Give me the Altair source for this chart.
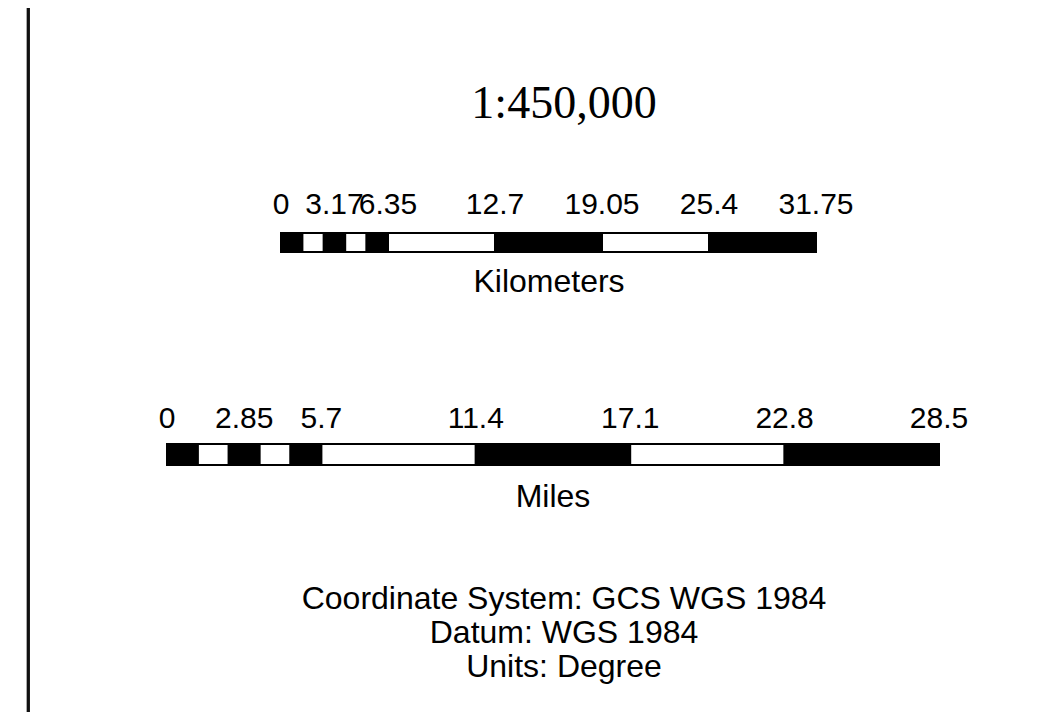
import altair as alt
import pandas as pd

# ---- data ----
km_breaks = [0, 1.27, 2.54, 3.81, 5.08, 6.35, 12.7, 19.05, 25.4, 31.75]
km_tick_values = [0, 3.175, 6.35, 12.7, 19.05, 25.4, 31.75]
km_tick_labels = ["0", "3.17", "6.35", "12.7", "19.05", "25.4", "31.75"]

mi_breaks = [0, 1.14, 2.28, 3.42, 4.56, 5.7, 11.4, 17.1, 22.8, 28.5]
mi_tick_values = [0, 2.85, 5.7, 11.4, 17.1, 22.8, 28.5]
mi_tick_labels = ["0", "2.85", "5.7", "11.4", "17.1", "22.8", "28.5"]

scale_text = "1:450,000"
km_unit = "Kilometers"
mi_unit = "Miles"
info_lines = ["Coordinate System: GCS WGS 1984", "Datum: WGS 1984", "Units: Degree"]

SANS = "Liberation Sans"
SERIF = "Liberation Serif"


def segs(breaks):
    rows = []
    for i in range(len(breaks) - 1):
        rows.append({"start": breaks[i], "end": breaks[i + 1],
                     "fill": "#000000" if i % 2 == 0 else "#ffffff"})
    return pd.DataFrame(rows)


km_seg = segs(km_breaks)
mi_seg = segs(mi_breaks)
km_lab = pd.DataFrame({"v": km_tick_values, "t": km_tick_labels})
mi_lab = pd.DataFrame({"v": mi_tick_values, "t": mi_tick_labels})

km_scale = alt.Scale(domain=[0, 31.75], range=[273, 808])
mi_scale = alt.Scale(domain=[0, 28.5], range=[159, 931])

km_bar = alt.Chart(km_seg).mark_rect(stroke="#000000", strokeWidth=2).encode(
    x=alt.X("start:Q", scale=km_scale, axis=None),
    x2="end:Q",
    y=alt.value(225), y2=alt.value(244),
    color=alt.Color("fill:N", scale=None),
)
km_text = alt.Chart(km_lab).mark_text(font=SANS, fontSize=30, baseline="alphabetic",
                                       align="center", color="black").encode(
    x=alt.X("v:Q", scale=km_scale, axis=None),
    y=alt.value(206),
    text="t:N",
)
mi_bar = alt.Chart(mi_seg).mark_rect(stroke="#000000", strokeWidth=2).encode(
    x=alt.X("start:Q", scale=mi_scale, axis=None),
    x2="end:Q",
    y=alt.value(436), y2=alt.value(457),
    color=alt.Color("fill:N", scale=None),
)
mi_text = alt.Chart(mi_lab).mark_text(font=SANS, fontSize=30, baseline="alphabetic",
                                       align="center", color="black").encode(
    x=alt.X("v:Q", scale=mi_scale, axis=None),
    y=alt.value(420),
    text="t:N",
)

base = alt.Chart(pd.DataFrame({"a": [0]}))

title = base.mark_text(font=SERIF, fontSize=46, baseline="alphabetic", align="center",
                       color="black").encode(x=alt.value(556), y=alt.value(110),
                                             text=alt.value(scale_text))
km_u = base.mark_text(font=SANS, fontSize=32, baseline="alphabetic", align="center",
                      color="black").encode(x=alt.value(541), y=alt.value(284),
                                            text=alt.value(km_unit))
mi_u = base.mark_text(font=SANS, fontSize=32, baseline="alphabetic", align="center",
                      color="black").encode(x=alt.value(545), y=alt.value(499),
                                            text=alt.value(mi_unit))
info_layers = []
for i, line in enumerate(info_lines):
    info_layers.append(
        base.mark_text(font=SANS, fontSize=32, baseline="alphabetic", align="center",
                       color="black").encode(x=alt.value(556), y=alt.value(601 + 34 * i),
                                             text=alt.value(line))
    )

border = base.mark_rule(color="#111111", strokeWidth=3.3).encode(
    x=alt.value(20.3), y=alt.value(-10), y2=alt.value(714)
)

chart = alt.layer(
    border, title, km_bar, km_text, km_u, mi_bar, mi_text, mi_u, *info_layers
).resolve_scale(x="independent").properties(
    width=1026, height=704, autosize=alt.AutoSizeParams(type="none"), padding=0,
    background="white"
).configure_view(stroke=None)

chart.save("out.html", embed_options={"renderer": "svg", "actions": False})
